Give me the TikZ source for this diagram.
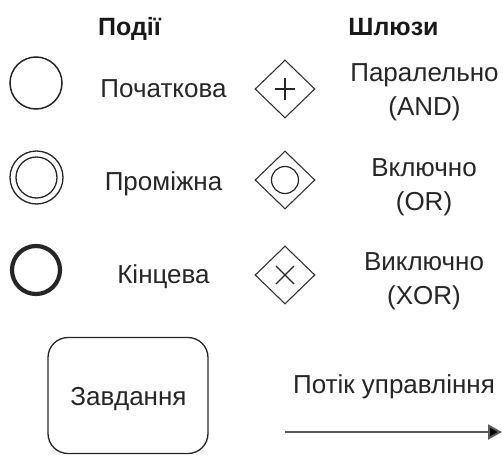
\documentclass[tikz,border=0pt]{standalone}
\usepackage{fontspec}
\setmainfont{Liberation Sans}
\usetikzlibrary{shapes.geometric,arrows.meta}
\begin{document}
\begin{tikzpicture}[x=1pt,y=-1pt,
  txt/.style={font=\fontsize{26}{34.5}\selectfont, text=black!85, align=center, inner sep=0pt},
  hdr/.style={font=\fontsize{25}{30}\selectfont\bfseries, text=black!90, inner sep=0pt, anchor=base},
  ev/.style={circle, draw=black!85, line width=1.5pt, minimum size=52pt, inner sep=0pt},
  gw/.style={diamond, draw=black!80, line width=1.1pt, minimum width=60pt, minimum height=58pt, inner sep=0pt, aspect=1},
  gwmark/.style={draw=black!85, line width=1.3pt}
]
\useasboundingbox (0,0) rectangle (503,455);
% headers
\node[hdr] (h1) at (129.5,35) {Події};
\node[hdr] (h2) at (393.5,35) {Шлюзи};
% events
\node[ev] (e1) at (36,83) {};
\node[txt, anchor=base] (t1) at (163.5,97) {Початкова};
\node[ev, minimum size=53pt, line width=1.3pt] (e2) at (36.5,177.5) {};
\node[circle, draw=black!85, line width=1.3pt, minimum size=41pt, inner sep=0pt] (e2i) at (e2) {};
\node[txt, anchor=base] (t2) at (163.5,190) {Проміжна};
\node[ev, line width=4.2pt, minimum size=48pt] (e3) at (36,270) {};
\node[txt, anchor=base] (t3) at (163.5,283) {Кінцева};
% gateways
\node[gw] (g1) at (285,89) {};
\draw[gwmark] ([xshift=-10pt]g1.center) -- ([xshift=10pt]g1.center);
\draw[gwmark] ([yshift=-11pt]g1.center) -- ([yshift=11pt]g1.center);
\node[txt, anchor=north] (gt1) at (424.5,63) {Паралельно\\(AND)};
\node[gw] (g2) at (285,180) {};
\node[circle, draw=black!85, line width=1.2pt, minimum size=27pt, inner sep=0pt] (g2i) at (g2) {};
\node[txt, anchor=north] (gt2) at (424,158) {Включно\\(OR)};
\node[gw] (g3) at (285,275) {};
\draw[gwmark] ([shift={(-9pt,-9pt)}]g3.center) -- ([shift={(9pt,9pt)}]g3.center);
\draw[gwmark] ([shift={(-9pt,9pt)}]g3.center) -- ([shift={(9pt,-9pt)}]g3.center);
\node[txt, anchor=north] (gt3) at (424,252) {Виключно\\(XOR)};
% task
\node[draw=black!85, line width=1.3pt, rounded corners=20pt, minimum width=160pt, minimum height=116pt, txt] (task) at (128,395.5) {};
\node[txt, anchor=base] (tasklbl) at (128.5,405) {Завдання};
% flow
\node[txt, anchor=base] (ft) at (394,393) {Потік управління};
\coordinate (a1) at (285,432);
\coordinate (a2) at (502,432);
\draw[draw=black!65, line width=2pt, -{Triangle[length=14pt,width=15pt,fill=black]}] (a1) -- (a2);
\end{tikzpicture}
\end{document}
